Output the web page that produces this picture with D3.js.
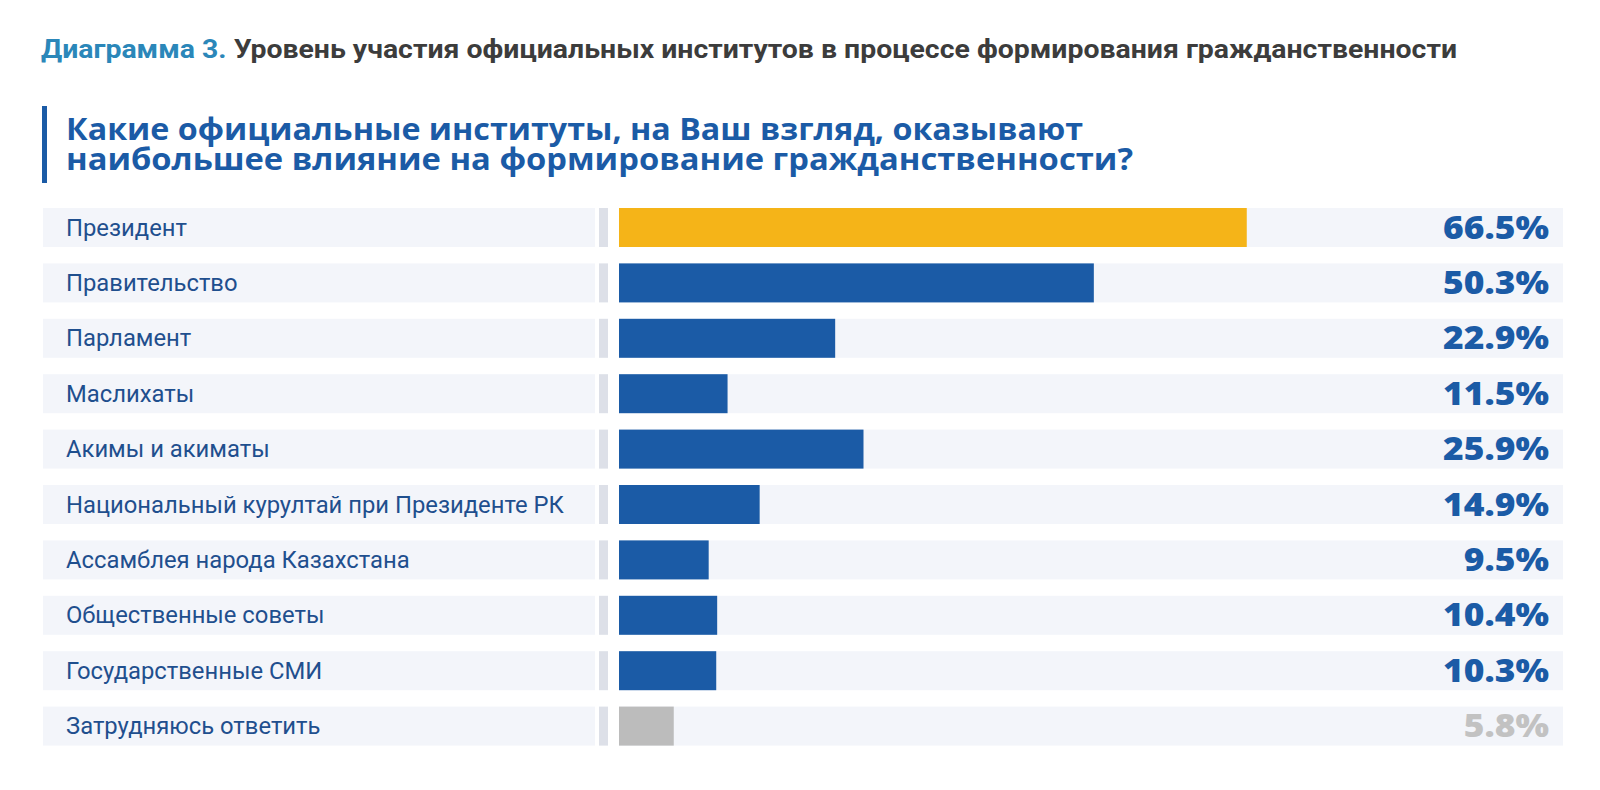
<!DOCTYPE html>
<html>
<head>
<meta charset="utf-8">
<script src="https://cdn.jsdelivr.net/npm/d3@7/dist/d3.min.js"></script>
<style>
  html, body { margin: 0; padding: 0; background: #ffffff; }
  #wrap { position: relative; width: 1600px; height: 790px; }
  svg { display: block; position: absolute; left: 0; top: 0; }
  #question { position: absolute; left: 66px; top: 114.4px; margin: 0;
    font-family: 'Open Sans', sans-serif; font-size: 30px; font-weight: 700;
    line-height: 30px; color: #1b5ba6; white-space: nowrap; }
  #question span { display: block; height: 30px; transform-origin: 0 50%; width: max-content; }
</style>
</head>
<body>
<div id="wrap">
<svg id="chart" width="1600" height="790"></svg>
<div id="question"></div>
</div>
<script>
const titleLead = "Диаграмма 3.";
const titleRest = " Уровень участия официальных институтов в процессе формирования гражданственности";
const questionLines = [
  "Какие официальные институты, на Ваш взгляд, оказывают",
  "наибольшее влияние на формирование гражданственности?"
];
const categories = [
  "Президент",
  "Правительство",
  "Парламент",
  "Маслихаты",
  "Акимы и акиматы",
  "Национальный курултай при Президенте РК",
  "Ассамблея народа Казахстана",
  "Общественные советы",
  "Государственные СМИ",
  "Затрудняюсь ответить"
];
const values = [66.5, 50.3, 22.9, 11.5, 25.9, 14.9, 9.5, 10.4, 10.3, 5.8];
const valueLabels = ["66.5%", "50.3%", "22.9%", "11.5%", "25.9%", "14.9%", "9.5%", "10.4%", "10.3%", "5.8%"];

const BLUE = "#1b5ba6", YELLOW = "#f5b418", GREY = "#bcbcbc";
const svg = d3.select("#chart");

// Title
const t = svg.append("text")
  .attr("x", 41).attr("y", 58)
  .attr("font-family", "Roboto, sans-serif")
  .attr("font-size", 25).attr("font-weight", 700)
  .attr("textLength", 1416).attr("lengthAdjust", "spacingAndGlyphs");
t.append("tspan").attr("fill", "#2b87b9").text(titleLead);
t.append("tspan").attr("fill", "#3c3c3c").text(titleRest);

// Question (HTML block with tight line-height), accent bar in SVG
svg.append("rect").attr("x", 42).attr("y", 106).attr("width", 5).attr("height", 77).attr("fill", BLUE);
const qWidths = [1017, 1067];
d3.select("#question").selectAll("span").data(questionLines).join("span")
  .text(d => d)
  .each(function (d, i) {
    const w = this.getBoundingClientRect().width;
    d3.select(this).style("transform", `scaleX(${qWidths[i] / w})`);
  });

// Scales
const n = categories.length;
const step = 55.4, pIn = 0.296;
const r0 = 208 - (pIn / 2) * step;
const y = d3.scaleBand().domain(categories)
  .range([r0, r0 + step * n]).paddingInner(pIn).paddingOuter(pIn / 2);
const x = d3.scaleLinear().domain([0, 100]).range([619, 1563]);

const rows = svg.selectAll("g.row").data(categories).join("g").attr("class", "row");

// label band
rows.append("rect")
  .attr("x", 43).attr("width", 552)
  .attr("y", d => y(d)).attr("height", y.bandwidth())
  .attr("fill", "#f3f5fa");
// separator
rows.append("rect")
  .attr("x", 599).attr("width", 9)
  .attr("y", d => y(d)).attr("height", y.bandwidth())
  .attr("fill", "#dde0e8");
// track
rows.append("rect")
  .attr("x", x(0)).attr("width", x(100) - x(0))
  .attr("y", d => y(d)).attr("height", y.bandwidth())
  .attr("fill", "#f3f5fa");
// bar
rows.append("rect")
  .attr("x", x(0))
  .attr("width", (d, i) => x(values[i]) - x(0))
  .attr("y", d => y(d)).attr("height", y.bandwidth())
  .attr("fill", (d, i) => i === 0 ? YELLOW : (i === n - 1 ? GREY : BLUE));
// label
rows.append("text")
  .attr("x", 66).attr("y", d => y(d) + y.bandwidth() / 2 + 8)
  .attr("font-family", "Roboto, sans-serif")
  .attr("font-size", 23.8)
  .attr("fill", "#1f4f8e")
  .text(d => d);
// value
const vt = rows.append("text")
  .attr("x", 1549).attr("y", d => y(d) + y.bandwidth() / 2 + 11)
  .attr("text-anchor", "end")
  .attr("font-family", "'Open Sans', sans-serif")
  .attr("font-size", 31).attr("font-weight", 800)
  .attr("fill", (d, i) => i === n - 1 ? "#c2c2c2" : BLUE)
  .text((d, i) => valueLabels[i]);
vt.each(function () {
  const w = this.getComputedTextLength();
  d3.select(this).attr("textLength", w * 1.14).attr("lengthAdjust", "spacingAndGlyphs");
});
</script>
</body>
</html>
